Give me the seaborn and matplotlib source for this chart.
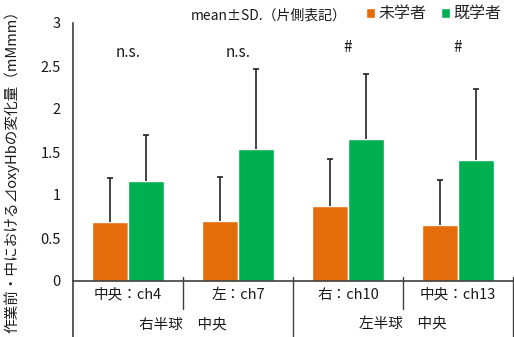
import matplotlib
matplotlib.use("Agg")
import matplotlib.pyplot as plt
from matplotlib.patches import Patch
import seaborn as sns
import pandas as pd
import numpy as np

sns.set_theme(style="white")
plt.rcParams['font.family'] = ['Noto Sans CJK JP', 'DejaVu Sans']

# data
channels = ['中央：ch4', '左：ch7', '右：ch10', '中央：ch13']
groups = ['未学者', '既学者']
mean_novice = [0.69, 0.70, 0.87, 0.65]
mean_expert = [1.16, 1.53, 1.65, 1.41]
sd_novice = [0.51, 0.51, 0.55, 0.53]
sd_expert = [0.54, 0.94, 0.76, 0.82]
marks = ['n.s.', 'n.s.', '#', '#']
regions = ['右半球　中央', '左半球　中央']

orange = '#E46C0A'
green = '#00B050'
axis_col = '#404040'
txt = '#1a1a1a'

df = pd.DataFrame({
    'channel': channels * 2,
    'group': [groups[0]] * 4 + [groups[1]] * 4,
    'mean': mean_novice + mean_expert,
    'sd': sd_novice + sd_expert,
})

fig = plt.figure(figsize=(5.14, 3.37), dpi=100)
ax = fig.add_axes([73 / 514, 1 - 281 / 337, 440 / 514, 258 / 337])

sns.barplot(data=df, x='channel', y='mean', hue='group', order=channels,
            hue_order=groups, palette=[orange, green], width=0.66,
            errorbar=None, saturation=1, legend=False, ax=ax)

# one-sided error bars, placed on seaborn's bars
bars = [p for p in ax.patches if p.get_height() > 0]
for p, (_, row) in zip(bars, df.iterrows()):
    xc = p.get_x() + p.get_width() / 2
    _, caps, _ = ax.errorbar(xc, row['mean'], yerr=[[0], [row['sd']]], fmt='none',
                             ecolor='#222222', elinewidth=1.2, capsize=2.5, capthick=1.2)
    caps[0].set_visible(False)

ax.set_xlim(-0.5, 3.5)
ax.set_ylim(0, 3)
ax.set_yticks(np.arange(0, 3.01, 0.5))
ax.set_yticklabels(['0', '0.5', '1', '1.5', '2', '2.5', '3'])
ax.tick_params(axis='y', length=0, pad=9, labelsize=10.5, labelcolor=txt)
ax.tick_params(axis='x', length=0, pad=5, labelsize=10.5, labelcolor=txt)
ax.set_xlabel('')
ax.set_ylabel('')
for s in ['top', 'right']:
    ax.spines[s].set_visible(False)
for s in ['left', 'bottom']:
    ax.spines[s].set_color(axis_col)
    ax.spines[s].set_linewidth(1.2)

# significance marks
for i, m in enumerate(marks):
    ax.text(i, 2.66 if m == 'n.s.' else 2.71, m, ha='center', va='center',
            fontsize=11, color=txt)

# group separators below axis
tr = ax.get_xaxis_transform()
ax.plot([-0.5, -0.5], [0, -0.22], transform=tr, color=axis_col, lw=1.2, clip_on=False)
for xs in [0.5, 2.5]:
    ax.plot([xs, xs], [0.015, -0.11], transform=tr, color=axis_col, lw=1.0, clip_on=False)
for xs in [1.5, 3.5]:
    ax.plot([xs, xs], [0.015, -0.22], transform=tr, color=axis_col, lw=1.0, clip_on=False)
for i, r in enumerate(regions):
    ax.text(0.5 + 2 * i, -0.17, r, transform=tr, ha='center', va='center',
            fontsize=10.5, color=txt)

# header text and legend
ax.text(0.445, 1.03, 'mean±SD.（片側表記）', transform=ax.transAxes,
        ha='center', va='center', fontsize=10, color=txt)
handles = [Patch(facecolor=orange, label=groups[0]), Patch(facecolor=green, label=groups[1])]
ax.legend(handles=handles, loc='center', bbox_to_anchor=(0.82, 1.035), ncol=2,
          frameon=False, fontsize=11.5, handlelength=0.55, handleheight=0.55,
          handletextpad=0.25, columnspacing=0.9, borderpad=0)

fig.text(12 / 514, 0.5, '作業前・中における⊿oxyHbの変化量（mMmm）', rotation=90,
         ha='center', va='center', fontsize=10.5, color=txt)

fig.savefig('out.png', dpi=100)
